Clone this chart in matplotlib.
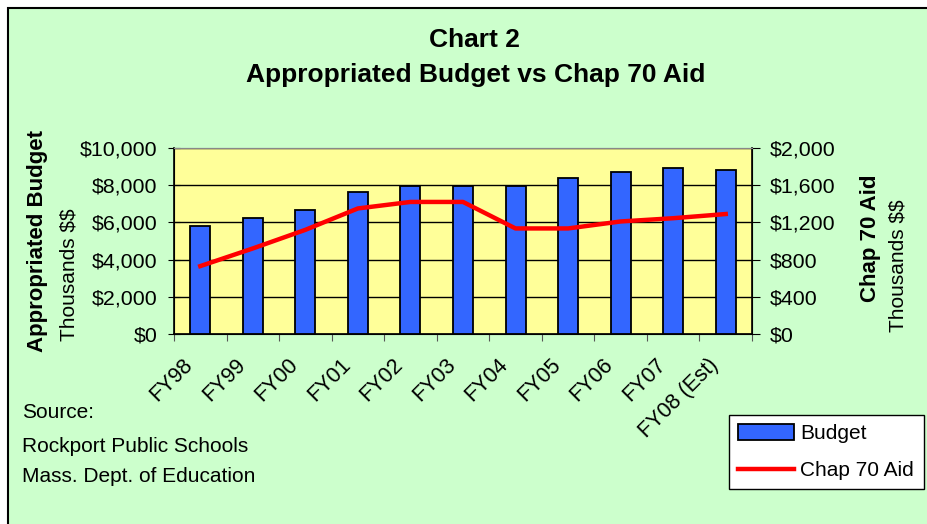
import matplotlib
matplotlib.use("Agg")
import matplotlib.pyplot as plt
from matplotlib.patches import Rectangle
from matplotlib.lines import Line2D
import numpy as np

categories = ["FY98", "FY99", "FY00", "FY01", "FY02", "FY03", "FY04", "FY05", "FY06", "FY07", "FY08 (Est)"]
budget = [5810, 6220, 6670, 7630, 7970, 7970, 7970, 8380, 8700, 8920, 8830]
chap70 = [730, 920, 1120, 1350, 1420, 1420, 1135, 1135, 1210, 1245, 1290]
left_ticks = [0, 2000, 4000, 6000, 8000, 10000]
right_ticks = [0, 400, 800, 1200, 1600, 2000]

plt.rcParams['font.family'] = ['Liberation Sans', 'DejaVu Sans']
plt.rcParams['text.parse_math'] = False

fig = plt.figure(figsize=(9.28, 5.24), dpi=100)
fig.patch.set_facecolor('white')
# green chart area with black border at left/top
fig.patches.append(Rectangle((8/928, -0.1), 1.1, 1.1 - 8/524, transform=fig.transFigure,
                             facecolor='#CCFFCC', edgecolor='black', linewidth=1.5, zorder=-5))

ax = fig.add_axes([174/928, (524-334)/524, (752-174)/928, (334-148)/524])
ax.set_facecolor('#FFFF99')
x = np.arange(len(categories))
ax.bar(x, budget, width=0.38, color='#3366FF', edgecolor='black', linewidth=1.3, zorder=3)
ax.set_xlim(-0.5, len(categories) - 0.5)
ax.set_ylim(0, 10000)
ax.set_yticks(left_ticks)
ax.set_yticklabels([f"${v:,}" for v in left_ticks], fontsize=15.4)
ax.yaxis.grid(True, color='black', linewidth=1)
ax.set_axisbelow(True)
ax.set_xticks(np.arange(len(categories) + 1) - 0.5)
ax.set_xticklabels([])
ax.set_xticks(x, minor=True)
ax.tick_params(axis='x', which='major', direction='out', length=5, color='#555555')
ax.tick_params(axis='x', which='minor', length=0)
ax.tick_params(axis='y', direction='inout', length=8, pad=8)
for s in ['left', 'bottom']:
    ax.spines[s].set_linewidth(1.2)
ax.spines['top'].set_color('#888888')

for i, c in enumerate(categories):
    ax.annotate(c, xy=(i, 0), xycoords='data', xytext=(-7.5, -20), textcoords='offset points',
                rotation=45, ha='right', va='center', rotation_mode='anchor', fontsize=15.5)

ax2 = ax.twinx()
ax2.plot(x, chap70, color='#FF0000', linewidth=3.2, zorder=4)
ax2.set_ylim(0, 2000)
ax2.set_yticks(right_ticks)
ax2.set_yticklabels([f"${v:,}" for v in right_ticks], fontsize=15.4)
ax2.tick_params(axis='y', direction='out', length=6, pad=7)
ax2.spines['right'].set_linewidth(1.2)
ax2.spines['top'].set_color('#888888')

fig.text(474/928, 1 - 40/524, "Chart 2", ha='center', va='center', fontsize=19, fontweight='bold')
fig.text(476/928, 1 - 75/524, "Appropriated Budget vs Chap 70 Aid", ha='center', va='center',
         fontsize=19, fontweight='bold')

fig.text(38/928, 1 - 241/524, "Appropriated Budget", rotation=90, ha='center', va='center',
         fontsize=16, fontweight='bold')
fig.text(69/928, 1 - 275/524, "Thousands $$", rotation=90, ha='center', va='center', fontsize=15)
fig.text(871/928, 1 - 238/524, "Chap 70 Aid", rotation=90, ha='center', va='center',
         fontsize=16, fontweight='bold')
fig.text(898/928, 1 - 266/524, "Thousands $$", rotation=90, ha='center', va='center', fontsize=15)

for yy, t in [(413, "Source:"), (446, "Rockport Public Schools"), (477, "Mass. Dept. of Education")]:
    fig.text(22/928, 1 - yy/524, t, ha='left', va='center', fontsize=15)

handles = [Rectangle((0, 0), 1, 1, facecolor='#3366FF', edgecolor='black', linewidth=1.3),
           Line2D([0], [0], color='#FF0000', linewidth=3.2)]
leg = fig.legend(handles, ["Budget", "Chap 70 Aid"], loc='upper left',
                 bbox_to_anchor=(729/928, 1 - 415/524), fontsize=15, frameon=True,
                 fancybox=False, edgecolor='black', facecolor='white', framealpha=1,
                 handlelength=2.65, handleheight=0.75, handletextpad=0.33, borderpad=0.45,
                 labelspacing=0.85, borderaxespad=0)
leg.get_frame().set_linewidth(1)

fig.savefig("out.png", dpi=100, facecolor=fig.get_facecolor())
